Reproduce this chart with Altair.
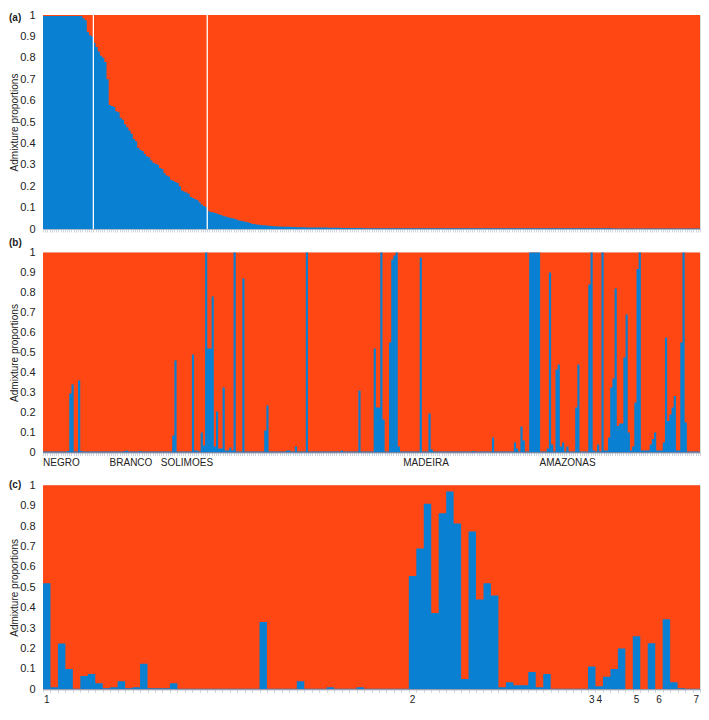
import altair as alt
import pandas as pd

BLUE = "#0a80d2"
ORANGE = "#fe4713"
TXT = "#222222"
FONT = "Liberation Sans"

# ---------------- data ----------------
# (a) admixture proportions (blue cluster), individuals sorted descending
adm_a = [
    0.995, 0.995, 0.995, 0.995, 0.995, 0.995, 0.995, 0.995, 0.995, 0.995,
    0.995, 0.995, 0.995, 0.995, 0.995, 0.995, 0.995, 0.995, 0.985, 0.975,
    0.92, 0.905, 0.90, 0.87, 0.85, 0.83, 0.81, 0.80, 0.78, 0.70,
    0.58, 0.575, 0.57, 0.55, 0.545, 0.52, 0.51, 0.49, 0.475, 0.46,
    0.445, 0.42, 0.41, 0.38, 0.37, 0.365, 0.35, 0.34, 0.335, 0.32,
    0.31, 0.305, 0.30, 0.285, 0.28, 0.26, 0.25, 0.245, 0.23, 0.225,
    0.22, 0.215, 0.20, 0.18, 0.175, 0.17, 0.165, 0.15, 0.145, 0.14,
    0.135, 0.125, 0.115, 0.108, 0.102, 0.085, 0.08, 0.078, 0.075, 0.072,
    0.068, 0.065, 0.06, 0.058, 0.055, 0.052, 0.05, 0.048, 0.044, 0.04,
    0.038, 0.036, 0.034, 0.032, 0.028, 0.025, 0.023, 0.021, 0.02, 0.019,
    0.018, 0.017, 0.015, 0.015, 0.014, 0.013, 0.013, 0.012, 0.012, 0.011,
    0.011, 0.01, 0.01, 0.009, 0.009, 0.009, 0.008, 0.008, 0.008, 0.008,
    0.007, 0.007, 0.007, 0.007, 0.007, 0.007, 0.007, 0.007, 0.007, 0.007,
    0.006, 0.006, 0.006, 0.006, 0.006, 0.006, 0.005, 0.005, 0.005, 0.005,
    0.005, 0.005, 0.005, 0.005, 0.005, 0.005, 0.004, 0.004, 0.004, 0.004,
    0.004, 0.004, 0.004, 0.004, 0.004, 0.004, 0.004, 0.004, 0.004, 0.004,
    0.004, 0.004, 0.004, 0.004, 0.004, 0.004, 0.004, 0.004, 0.004, 0.004,
    0.004, 0.004, 0.004, 0.004, 0.004, 0.004, 0.004, 0.004, 0.004, 0.004,
    0.004, 0.004, 0.004, 0.004, 0.004, 0.004, 0.004, 0.004, 0.004, 0.004,
    0.004, 0.004, 0.004, 0.004, 0.004, 0.004, 0.004, 0.004, 0.004, 0.004,
    0.003, 0.003, 0.003, 0.003, 0.003, 0.003, 0.003, 0.003, 0.003, 0.003,
    0.003, 0.003, 0.003, 0.003, 0.003, 0.003, 0.003, 0.003, 0.003, 0.003,
    0.003, 0.003, 0.003, 0.003, 0.003, 0.003, 0.003, 0.003, 0.003, 0.003,
    0.003, 0.003, 0.003, 0.003, 0.003, 0.003, 0.003, 0.003, 0.003, 0.003,
    0.003, 0.003, 0.003, 0.003, 0.003, 0.003, 0.003, 0.003, 0.003, 0.003,
    0.003, 0.003, 0.003, 0.003, 0.003, 0.003, 0.003, 0.003, 0.003, 0.003,
    0.002, 0.002, 0.002, 0.002, 0.002, 0.002, 0.002, 0.002, 0.002, 0.002,
    0.002, 0.002, 0.002, 0.002, 0.002, 0.002, 0.002, 0.002, 0.002, 0.002,
    0.002, 0.002, 0.002, 0.002, 0.002, 0.002, 0.002, 0.002, 0.002, 0.002,
    0.002, 0.002, 0.002, 0.002, 0.002, 0.002, 0.002, 0.002, 0.002, 0.002,
]
sep_a = [23, 75]

# (b) individuals ordered by river
adm_b = [
    0.005, 0.005, 0.005, 0.005, 0.005, 0.005, 0.005, 0.005, 0.005, 0.005,
    0.005, 0.008, 0.295, 0.34, 0.005, 0.005, 0.36, 0.008, 0.005, 0.005,
    0.005, 0.005, 0.005, 0.005, 0.005, 0.005, 0.005, 0.005, 0.005, 0.005,
    0.005, 0.005, 0.005, 0.005, 0.005, 0.005, 0.005, 0.008, 0.01, 0.005,
    0.005, 0.005, 0.005, 0.005, 0.008, 0.005, 0.005, 0.005, 0.005, 0.005,
    0.005, 0.005, 0.005, 0.005, 0.005, 0.005, 0.005, 0.005, 0.005, 0.085,
    0.46, 0.005, 0.005, 0.005, 0.005, 0.005, 0.005, 0.005, 0.49, 0.01,
    0.01, 0.005, 0.10, 0.035, 1.0, 0.52, 0.52, 0.78, 0.03, 0.205,
    0.02, 0.02, 0.325, 0.01, 0.01, 0.025, 0.01, 1.0, 0.005, 0.005,
    0.005, 0.87, 0.005, 0.005, 0.005, 0.005, 0.005, 0.005, 0.005, 0.005,
    0.005, 0.11, 0.235, 0.005, 0.005, 0.005, 0.005, 0.005, 0.005, 0.005,
    0.005, 0.01, 0.01, 0.005, 0.005, 0.03, 0.005, 0.005, 0.005, 0.005,
    1.0, 0.005, 0.005, 0.005, 0.005, 0.005, 0.005, 0.005, 0.005, 0.005,
    0.005, 0.005, 0.005, 0.005, 0.005, 0.005, 0.01, 0.005, 0.005, 0.005,
    0.005, 0.005, 0.005, 0.005, 0.31, 0.005, 0.005, 0.005, 0.005, 0.005,
    0.005, 0.52, 0.225, 0.225, 1.0, 0.165, 0.005, 0.005, 0.55, 0.965,
    0.985, 1.0, 0.03, 0.005, 0.005, 0.005, 0.005, 0.005, 0.005, 0.005,
    0.005, 0.005, 0.975, 0.005, 0.005, 0.005, 0.195, 0.015, 0.005, 0.005,
    0.005, 0.005, 0.005, 0.005, 0.005, 0.005, 0.005, 0.005, 0.005, 0.005,
    0.005, 0.005, 0.005, 0.005, 0.005, 0.005, 0.008, 0.005, 0.005, 0.005,
    0.005, 0.005, 0.005, 0.005, 0.005, 0.075, 0.005, 0.005, 0.005, 0.005,
    0.005, 0.005, 0.005, 0.005, 0.005, 0.05, 0.02, 0.005, 0.13, 0.06,
    0.005, 0.005, 1.0, 1.0, 1.0, 1.0, 1.0, 0.005, 0.005, 0.005,
    0.02, 0.9, 0.04, 0.005, 0.415, 0.44, 0.03, 0.05, 0.005, 0.03,
    0.005, 0.005, 0.005, 0.225, 0.44, 0.005, 0.005, 0.005, 0.005, 0.84,
    1.0, 0.01, 0.005, 0.04, 0.005, 1.0, 0.01, 0.01, 0.075, 0.325,
    0.37, 0.82, 0.133, 0.145, 0.145, 0.475, 0.69, 0.1, 0.01, 0.03,
    0.25, 0.917, 1.0, 0.01, 0.01, 0.01, 0.01, 0.04, 0.067, 0.1,
    0.01, 0.01, 0.01, 0.05, 0.575, 0.158, 0.19, 0.225, 0.283, 0.01,
    0.01, 0.55, 1.0, 0.15, 0.005, 0.005, 0.005, 0.005, 0.005, 0.005,
]
regions_b = ["NEGRO", "BRANCO", "SOLIMOES", "MADEIRA", "AMAZONAS"]
region_start_b = [0, 30.4, 53.8, 164.5, 226.7]

# (c) sampling localities
adm_c = [
    0.52, 0.01, 0.225, 0.10, 0.003, 0.065, 0.075, 0.03, 0.005, 0.01,
    0.04, 0.005, 0.01, 0.125, 0.005, 0.005, 0.005, 0.03, 0.003, 0.003,
    0.003, 0.003, 0.003, 0.003, 0.003, 0.003, 0.003, 0.003, 0.003, 0.33,
    0.003, 0.003, 0.003, 0.003, 0.04, 0.003, 0.003, 0.003, 0.01, 0.003,
    0.003, 0.003, 0.01, 0.003, 0.003, 0.003, 0.003, 0.003, 0.003, 0.556,
    0.69, 0.91, 0.374, 0.863, 0.97, 0.813, 0.05, 0.774, 0.44, 0.52,
    0.46, 0.01, 0.035, 0.02, 0.02, 0.085, 0.01, 0.075, 0.003, 0.003,
    0.003, 0.003, 0.003, 0.112, 0.015, 0.062, 0.10, 0.20, 0.002, 0.26,
    0.002, 0.226, 0.002, 0.343, 0.034, 0.005, 0.003, 0.003,
]
pops_c = ["1", "2", "3", "4", "5", "6", "7"]
pop_index_c = [0, 49, 73, 74, 79, 82, 87]

y_ticks = [0, 0.1, 0.2, 0.3, 0.4, 0.5, 0.6, 0.7, 0.8, 0.9, 1]

W = 657


def axes(n):
    xs = alt.Scale(domain=[0, n], nice=False, zero=False)
    ys = alt.Scale(domain=[0, 1], nice=False)
    xax = alt.Axis(values=list(range(n + 1)), labels=False, title=None, grid=False,
                   tickSize=3, tickColor="#c3cad6", tickWidth=0.8,
                   domainColor="#aab8cc", domainWidth=1)
    yax = alt.Axis(values=y_ticks, format=".1~f", title="Admixture proportions",
                   grid=False, ticks=False, domain=False, labelPadding=8,
                   labelFontSize=11, labelColor=TXT, labelFont=FONT, labelFlush=False,
                   labelOverlap=False,
                   minExtent=23, maxExtent=23, titlePadding=1, titleFontSize=10,
                   titleFontWeight="normal", titleColor=TXT, titleFont=FONT)
    return xs, ys, xax, yax


def panel(vals, tag, tag_y):
    n = len(vals)
    xs, ys, xax, yax = axes(n)
    # one row per individual plus a closing row so the last step is drawn
    df = pd.DataFrame({"i": list(range(n + 1)), "q": list(vals) + [vals[-1]]})
    df["one"] = 1.0
    base = alt.Chart(df)
    # total proportion (=1) in orange, blue cluster proportion drawn over it
    orange = base.mark_area(color=ORANGE, interpolate="step-after", opacity=1).encode(
        x=alt.X("i:Q", scale=xs, axis=xax),
        y=alt.Y("one:Q", scale=ys, axis=yax))
    blue = base.mark_area(color=BLUE, interpolate="step-after", opacity=1).encode(
        x=alt.X("i:Q", scale=xs, axis=xax),
        y=alt.Y("q:Q", scale=ys, axis=yax))
    tag_layer = alt.Chart(pd.DataFrame({"t": [tag]})).mark_text(
        align="left", baseline="middle", fontSize=10, fontWeight="bold",
        font=FONT, color=TXT).encode(text="t:N", x=alt.value(-34), y=alt.value(tag_y))
    return [orange, blue, tag_layer], xs, xax


# panel a
ha = 214
la, xsa, xaxa = panel(adm_a, "(a)", 3)
seps = alt.Chart(pd.DataFrame({"s": sep_a})).mark_rule(color="white", strokeWidth=1.3).encode(
    x=alt.X("s:Q", scale=xsa, axis=xaxa))
pa = alt.layer(*la, seps).properties(width=W, height=ha)

# panel b
hb = 200
lb, xsb, xaxb = panel(adm_b, "(b)", -10)
reg = alt.Chart(pd.DataFrame({"r": regions_b, "s": region_start_b})).mark_text(
    align="left", baseline="middle", fontSize=10, font=FONT, color=TXT).encode(
    x=alt.X("s:Q", scale=xsb, axis=xaxb), y=alt.value(hb + 10), text="r:N")
pb = alt.layer(*lb, reg).properties(width=W, height=hb)

# panel c
hc = 204
lc, xsc, xaxc = panel(adm_c, "(c)", 0)
pops = alt.Chart(pd.DataFrame({"p": pops_c, "i": pop_index_c})).transform_calculate(
    xc="datum.i + 0.5").mark_text(
    align="center", baseline="middle", fontSize=10, font=FONT, color=TXT).encode(
    x=alt.X("xc:Q", scale=xsc, axis=xaxc), y=alt.value(hc + 11), text="p:N")
pc = alt.layer(*lc, pops).properties(width=W, height=hc)

chart = alt.vconcat(
    alt.vconcat(pa, pb, spacing=1.5),
    pc, spacing=10.3,
).properties(padding=0).configure_view(strokeWidth=0).configure(font=FONT)

chart.save("out.html", embed_options={"renderer": "svg", "actions": False})
